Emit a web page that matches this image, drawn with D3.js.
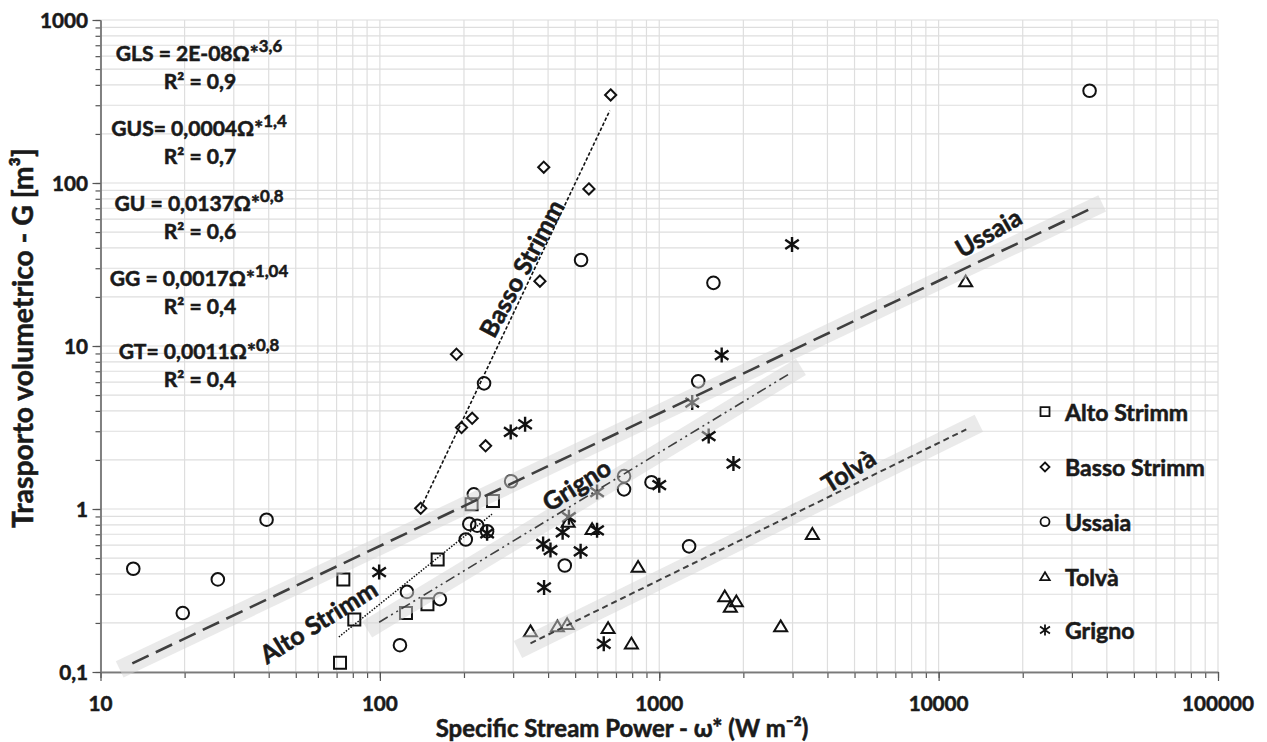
<!DOCTYPE html>
<html><head><meta charset="utf-8">
<script src="https://cdn.jsdelivr.net/npm/d3@7"></script>
<style>
body{margin:0;background:#fff}
svg{display:block}
text{font-family:Lato,'Open Sans',sans-serif;font-weight:700;fill:#1a1a1a;stroke:#1a1a1a;stroke-width:0.55px}
</style>
</head><body>
<svg id="c" width="1267" height="742"></svg>
<script>
// ---------- data ----------
const xTickValues = [10, 100, 1000, 10000, 100000];
const xTickLabels = ["10", "100", "1000", "10000", "100000"];
const yTickValues = [0.1, 1, 10, 100, 1000];
const yTickLabels = ["0,1", "1", "10", "100", "1000"];
const seriesNames = ["Alto Strimm", "Basso Strimm", "Ussaia", "Tolvà", "Grigno"];
const xTitle = "Specific Stream Power - ω* (W m⁻²)";
const yTitle = "Trasporto volumetrico - G [m³]";

const altoStrimm = [[72,0.114],[74,0.37],[81,0.21],[124,0.23],[148,0.26],[161,0.49],[213,1.07],[254,1.12]];
const bassoStrimm = [[140,1.01],[188,8.9],[196,3.16],[214,3.6],[239,2.44],[374,25],[386,125],[560,92],[670,347]];
const ussaia = [[13.1,0.43],[19.7,0.23],[26.3,0.37],[39.3,0.86],[118,0.146],[125,0.31],[164,0.28],[203,0.65],
  [209,0.81],[223,0.79],[242,0.73],[217,1.23],[295,1.48],[236,5.9],[459,0.45],[525,33.7],[748,1.59],[748,1.32],
  [938,1.46],[1279,0.59],[1379,6.07],[1563,24.4],[34700,368]];
const tolva = [[346,0.177],[432,0.19],[468,0.196],[656,0.185],[795,0.149],[840,0.44],[472,0.83],[575,0.75],
  [1716,0.29],[1888,0.27],[1797,0.25],[2720,0.19],[3532,0.70],[12500,24.8]];
const grigno = [[99.4,0.41],[242,0.71],[294,2.97],[331,3.31],[384,0.61],[408,0.56],[387,0.33],[451,0.72],
  [475,0.89],[523,0.55],[599,1.27],[599,0.74],[633,0.149],[1000,1.40],[1312,4.5],[1503,2.8],[1673,8.8],
  [1843,1.9],[2987,42]];

// trend line end points
const trendAlto = [[71.3,0.164],[252,0.93]];
const trendBasso = [[140,1.01],[665,278]];
const trendUssaia = [[13.0,0.113],[34700,69]];
const trendGrigno = [[99.4,0.202],[2913,6.73]];
const trendTolva = [[346,0.150],[12560,3.08]];

const equationMain = ["GLS = 2E-08Ω", "GUS= 0,0004Ω", "GU = 0,0137Ω", "GG = 0,0017Ω", "GT= 0,0011Ω"];
const equationExp = ["3,6", "1,4", "0,8", "1,04", "0,8"];
const r2Labels = ["R² = 0,9", "R² = 0,7", "R² = 0,6", "R² = 0,4", "R² = 0,4"];

// ---------- setup ----------
const svg = d3.select('#c');
const x = d3.scaleLog().domain([10, 100000]).range([100.5, 1218]);
const y = d3.scaleLog().domain([0.1, 1000]).range([672, 20]);

function fit(sel, target){
  const w = sel.node().getComputedTextLength();
  const fs = parseFloat(sel.attr('font-size'));
  return fs * target / w;
}

// ---------- grid ----------
const grid = svg.append('g');
grid.selectAll('.vg').data(x.ticks()).join('line')
  .attr('x1', d=>x(d)).attr('x2', d=>x(d)).attr('y1', y(1000)).attr('y2', y(0.1))
  .attr('stroke', '#dedede').attr('stroke-width', 1.2);
grid.selectAll('.hg').data(y.ticks()).join('line')
  .attr('x1', x(10)).attr('x2', x(100000)).attr('y1', d=>y(d)).attr('y2', d=>y(d))
  .attr('stroke', '#dedede').attr('stroke-width', 1.2);

// ---------- axes ----------
const ax = svg.append('g').attr('transform', `translate(0,${y(0.1)})`)
  .call(d3.axisBottom(x).tickValues(x.ticks()).tickFormat('').tickSize(6).tickSizeOuter(0));
const ax2 = svg.append('g').attr('transform', `translate(0,${y(0.1)})`)
  .call(d3.axisBottom(x).tickValues(xTickValues).tickFormat('').tickSize(9).tickSizeOuter(0));
const ay = svg.append('g').attr('transform', `translate(${x(10)},0)`)
  .call(d3.axisLeft(y).tickValues(y.ticks()).tickFormat('').tickSize(5).tickSizeOuter(0));
const ay2 = svg.append('g').attr('transform', `translate(${x(10)},0)`)
  .call(d3.axisLeft(y).tickValues(yTickValues).tickFormat('').tickSize(8).tickSizeOuter(0));
[ax, ax2, ay, ay2].forEach(a=>{
  a.selectAll('path').attr('stroke', '#7a7a7a').attr('stroke-width', 1.5);
  a.selectAll('line').attr('stroke', '#555').attr('stroke-width', 1.2);
});

// tick labels
const tl = svg.append('text').attr('font-size', 20).text('100000');
const tickFs = fit(tl, 72); tl.remove();
svg.selectAll('.xl').data(xTickValues).join('text')
  .attr('x', d=>x(d)).attr('y', 703).attr('text-anchor', 'middle').attr('dominant-baseline', 'central')
  .attr('font-size', tickFs).text((d,i)=>xTickLabels[i]);
svg.selectAll('.yl').data(yTickValues).join('text')
  .attr('x', 88).attr('y', d=>y(d)).attr('text-anchor', 'end').attr('dominant-baseline', 'central')
  .attr('font-size', tickFs).text((d,i)=>yTickLabels[i]);

// axis titles
const xt = svg.append('text').attr('font-size', 24).text(xTitle);
xt.attr('font-size', fit(xt, 373)).attr('x', 622).attr('y', 727)
  .attr('text-anchor', 'middle').attr('dominant-baseline', 'central');
const yt = svg.append('text').attr('font-size', 24).text(yTitle);
yt.attr('font-size', fit(yt, 380)).attr('text-anchor', 'middle').attr('dominant-baseline', 'central')
  .attr('transform', 'translate(22,338) rotate(-90)');

// ---------- markers ----------
const sym = {
  square: s=>`M${-s},${-s}h${2*s}v${2*s}h${-2*s}Z`,
  diamond: s=>`M0,${-s}L${s},0L0,${s}L${-s},0Z`,
  circle: s=>`M${s},0A${s},${s} 0 1,1 ${-s},0A${s},${s} 0 1,1 ${s},0Z`,
  triangle: s=>`M0,${-s}L${s*1.05},${s*0.75}L${-s*1.05},${s*0.75}Z`,
  star: s=>`M0,${-s}V${s}M${-s*0.9},${-s*0.62}L${s*0.9},${s*0.62}M${-s*0.9},${s*0.62}L${s*0.9},${-s*0.62}`
};
const seriesData = [altoStrimm, bassoStrimm, ussaia, tolva, grigno];
const seriesSym = ['square', 'diamond', 'circle', 'triangle', 'star'];
const seriesSize = [6, 5.6, 6.3, 6.2, 7.5];
const seriesStroke = [2, 2, 2, 2, 2.4];
const mg = svg.append('g');
seriesData.forEach((data, k)=>{
  mg.selectAll(null).data(data).join('path')
    .attr('transform', d=>`translate(${x(d[0])},${y(d[1])})`)
    .attr('d', sym[seriesSym[k]](seriesSize[k]))
    .attr('fill', 'none').attr('stroke', '#111').attr('stroke-width', seriesStroke[k]);
});

// ---------- trend lines ----------
function pix(t){ return t.map(p=>[x(p[0]), y(p[1])]); }
function band(t, ext, w){
  const [p0, p1] = pix(t);
  const dx = p1[0]-p0[0], dy = p1[1]-p0[1], L = Math.hypot(dx, dy);
  const ux = dx/L, uy = dy/L;
  svg.append('line')
    .attr('x1', p0[0]-ux*ext).attr('y1', p0[1]-uy*ext)
    .attr('x2', p1[0]+ux*ext).attr('y2', p1[1]+uy*ext)
    .attr('stroke', '#d6d6d6').attr('stroke-opacity', 0.5).attr('stroke-width', w);
}
band(trendUssaia, 14, 18);
band(trendGrigno, 14, 19);
band(trendTolva, 14, 19);

const line = d3.line().x(d=>x(d[0])).y(d=>y(d[1]));
function trend(t, dash, w, col){
  svg.append('path').datum(t).attr('d', line).attr('fill', 'none')
    .attr('stroke', col).attr('stroke-width', w).attr('stroke-dasharray', dash);
}
trend(trendUssaia, '18,8', 2.6, '#3f3f3f');
trend(trendGrigno, '10,4,2,4,2,4', 1.6, '#3f3f3f');
trend(trendTolva, '6,4', 2, '#3f3f3f');
trend(trendBasso, '3.5,2', 1.6, '#111');
trend(trendAlto, '1.5,1.5', 1.5, '#111');

// ---------- legend ----------
const legY = [411.7, 467, 521.7, 576.7, 630];
const lg = svg.append('g');
const probe = lg.append('text').attr('font-size', 20).text('Basso Strimm');
const legFs = fit(probe, 140); probe.remove();
seriesNames.forEach((n, k)=>{
  lg.append('path').attr('transform', `translate(1045,${legY[k]})`)
    .attr('d', sym[seriesSym[k]](k===4?5.5:4.5))
    .attr('fill', 'none').attr('stroke', '#111').attr('stroke-width', 1.8);
  lg.append('text').attr('x', 1065).attr('y', legY[k]).attr('dominant-baseline', 'central')
    .attr('font-size', legFs).text(n);
});

// ---------- line labels ----------
const lineLabels = [
  {t: 'Alto Strimm', cx: 318, cy: 621, a: -32},
  {t: 'Basso Strimm', cx: 521, cy: 268, a: -62},
  {t: 'Grigno', cx: 576, cy: 484, a: -32},
  {t: 'Tolvà', cx: 848, cy: 470, a: -32},
  {t: 'Ussaia', cx: 988, cy: 232, a: -30}
];
lineLabels.forEach(l=>{
  svg.append('text').attr('font-size', legFs*1.08).attr('text-anchor', 'middle')
    .attr('dominant-baseline', 'central')
    .attr('transform', `translate(${l.cx},${l.cy}) rotate(${l.a})`).text(l.t);
});

// ---------- equations ----------
const eqY = [51.7, 126.7, 201.7, 276.7, 350];
const r2Y = [80, 155, 230, 305, 378.3];
const ep = svg.append('text').attr('font-size', 20).text(equationMain[0]);
const eqFs = fit(ep, 134); ep.remove();
equationMain.forEach((e, k)=>{
  const t = svg.append('text').attr('x', 199).attr('y', eqY[k]).attr('text-anchor', 'middle')
    .attr('dominant-baseline', 'central').attr('font-size', eqFs);
  t.append('tspan').text(e + '*');
  t.append('tspan').attr('font-size', eqFs*0.8).attr('dy', -eqFs*0.3).text(equationExp[k]);
  svg.append('text').attr('x', 200).attr('y', r2Y[k]).attr('text-anchor', 'middle')
    .attr('dominant-baseline', 'central').attr('font-size', eqFs).text(r2Labels[k]);
});
</script>
</body></html>
